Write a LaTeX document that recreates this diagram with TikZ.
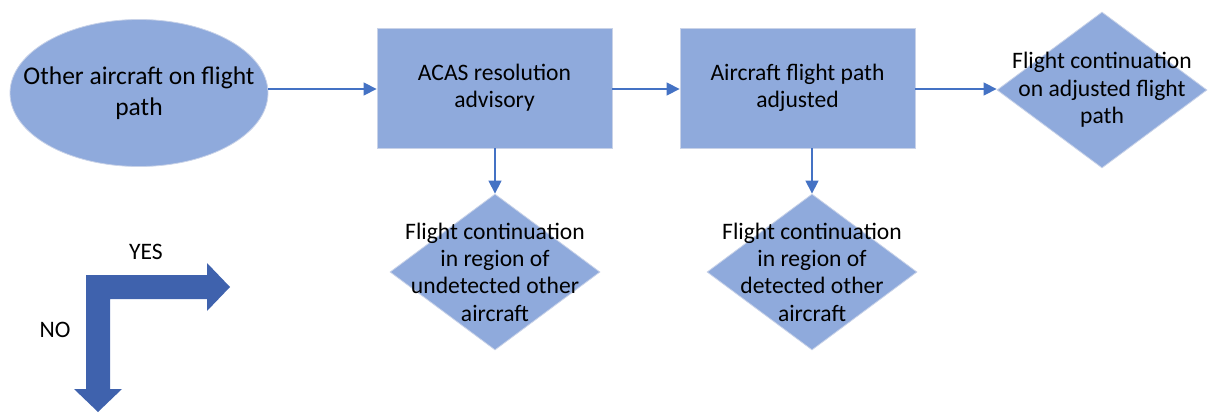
\documentclass[tikz,border=0pt]{standalone}
\usepackage{fontspec}
\setmainfont{Carlito}
\usetikzlibrary{shapes.geometric,arrows.meta}
\definecolor{shapefill}{RGB}{143,170,220}
\definecolor{shapeedge}{RGB}{200,210,232}
\definecolor{linkblue}{RGB}{68,114,196}
\definecolor{bentblue}{RGB}{63,98,173}
\tikzset{
  base/.style={fill=shapefill,draw=shapeedge,line width=0.8pt},
  procbox/.style={base,rectangle,minimum width=235pt,minimum height=120pt,inner sep=0pt},
  startoval/.style={base,ellipse,minimum width=258pt,minimum height=147pt,inner sep=0pt},
  decision/.style={base,diamond,minimum width=210pt,minimum height=156pt,inner sep=0pt},
  label/.style={align=center,font=\fontsize{23.6}{27.3}\selectfont,inner sep=0pt},
  link/.style={draw=linkblue,line width=1.3pt,-{Triangle[length=13pt,width=13pt]}}
}
\begin{document}
\begin{tikzpicture}[x=1pt,y=-1pt]
\useasboundingbox (0,0) rectangle (1209,412);
% flowchart shapes
\node[startoval] (start) at (139,93) {};
\node[label,font=\fontsize{25.5}{31.5}\selectfont] at (start.center) {Other aircraft on flight\\path};
\node[procbox] (acas) at (494.5,88) {};
\node[label] at (acas.center) {ACAS resolution\\advisory};
\node[procbox] (adjust) at (797.5,88) {};
\node[label] at (adjust.center) {Aircraft flight path\\adjusted};
\node[decision] (onpath) at (1102,90) {};
\node[label] at (onpath.center) {Flight continuation\\on adjusted flight\\path};
\node[decision] (undet) at (495,272) {};
\node[label] at (undet.center) {Flight continuation\\in region of\\undetected other\\aircraft};
\node[decision] (det) at (812,272) {};
\node[label] at (det.center) {Flight continuation\\in region of\\detected other\\aircraft};
% connectors
\draw[link] (start.east |- 0,89) -- (acas.west |- 0,89);
\draw[link] (acas.east |- 0,89) -- (adjust.west |- 0,89);
\draw[link] (adjust.east |- 0,89) -- (onpath.west |- 0,89);
\draw[link] (acas.south -| undet.north) -- (undet.north);
\draw[link] (adjust.south -| det.north) -- (det.north);
% legend: bent YES / NO arrow
\fill[bentblue] (86,275) -- (207,275) -- (207,263) -- (230,287) -- (207,311) -- (207,299)
  -- (110,299) -- (110,389) -- (122,389) -- (98,412) -- (74,389) -- (86,389) -- cycle;
\node[label] (yes) at (146,252) {YES};
\node[label] (no) at (55,330) {NO};
\end{tikzpicture}
\end{document}
